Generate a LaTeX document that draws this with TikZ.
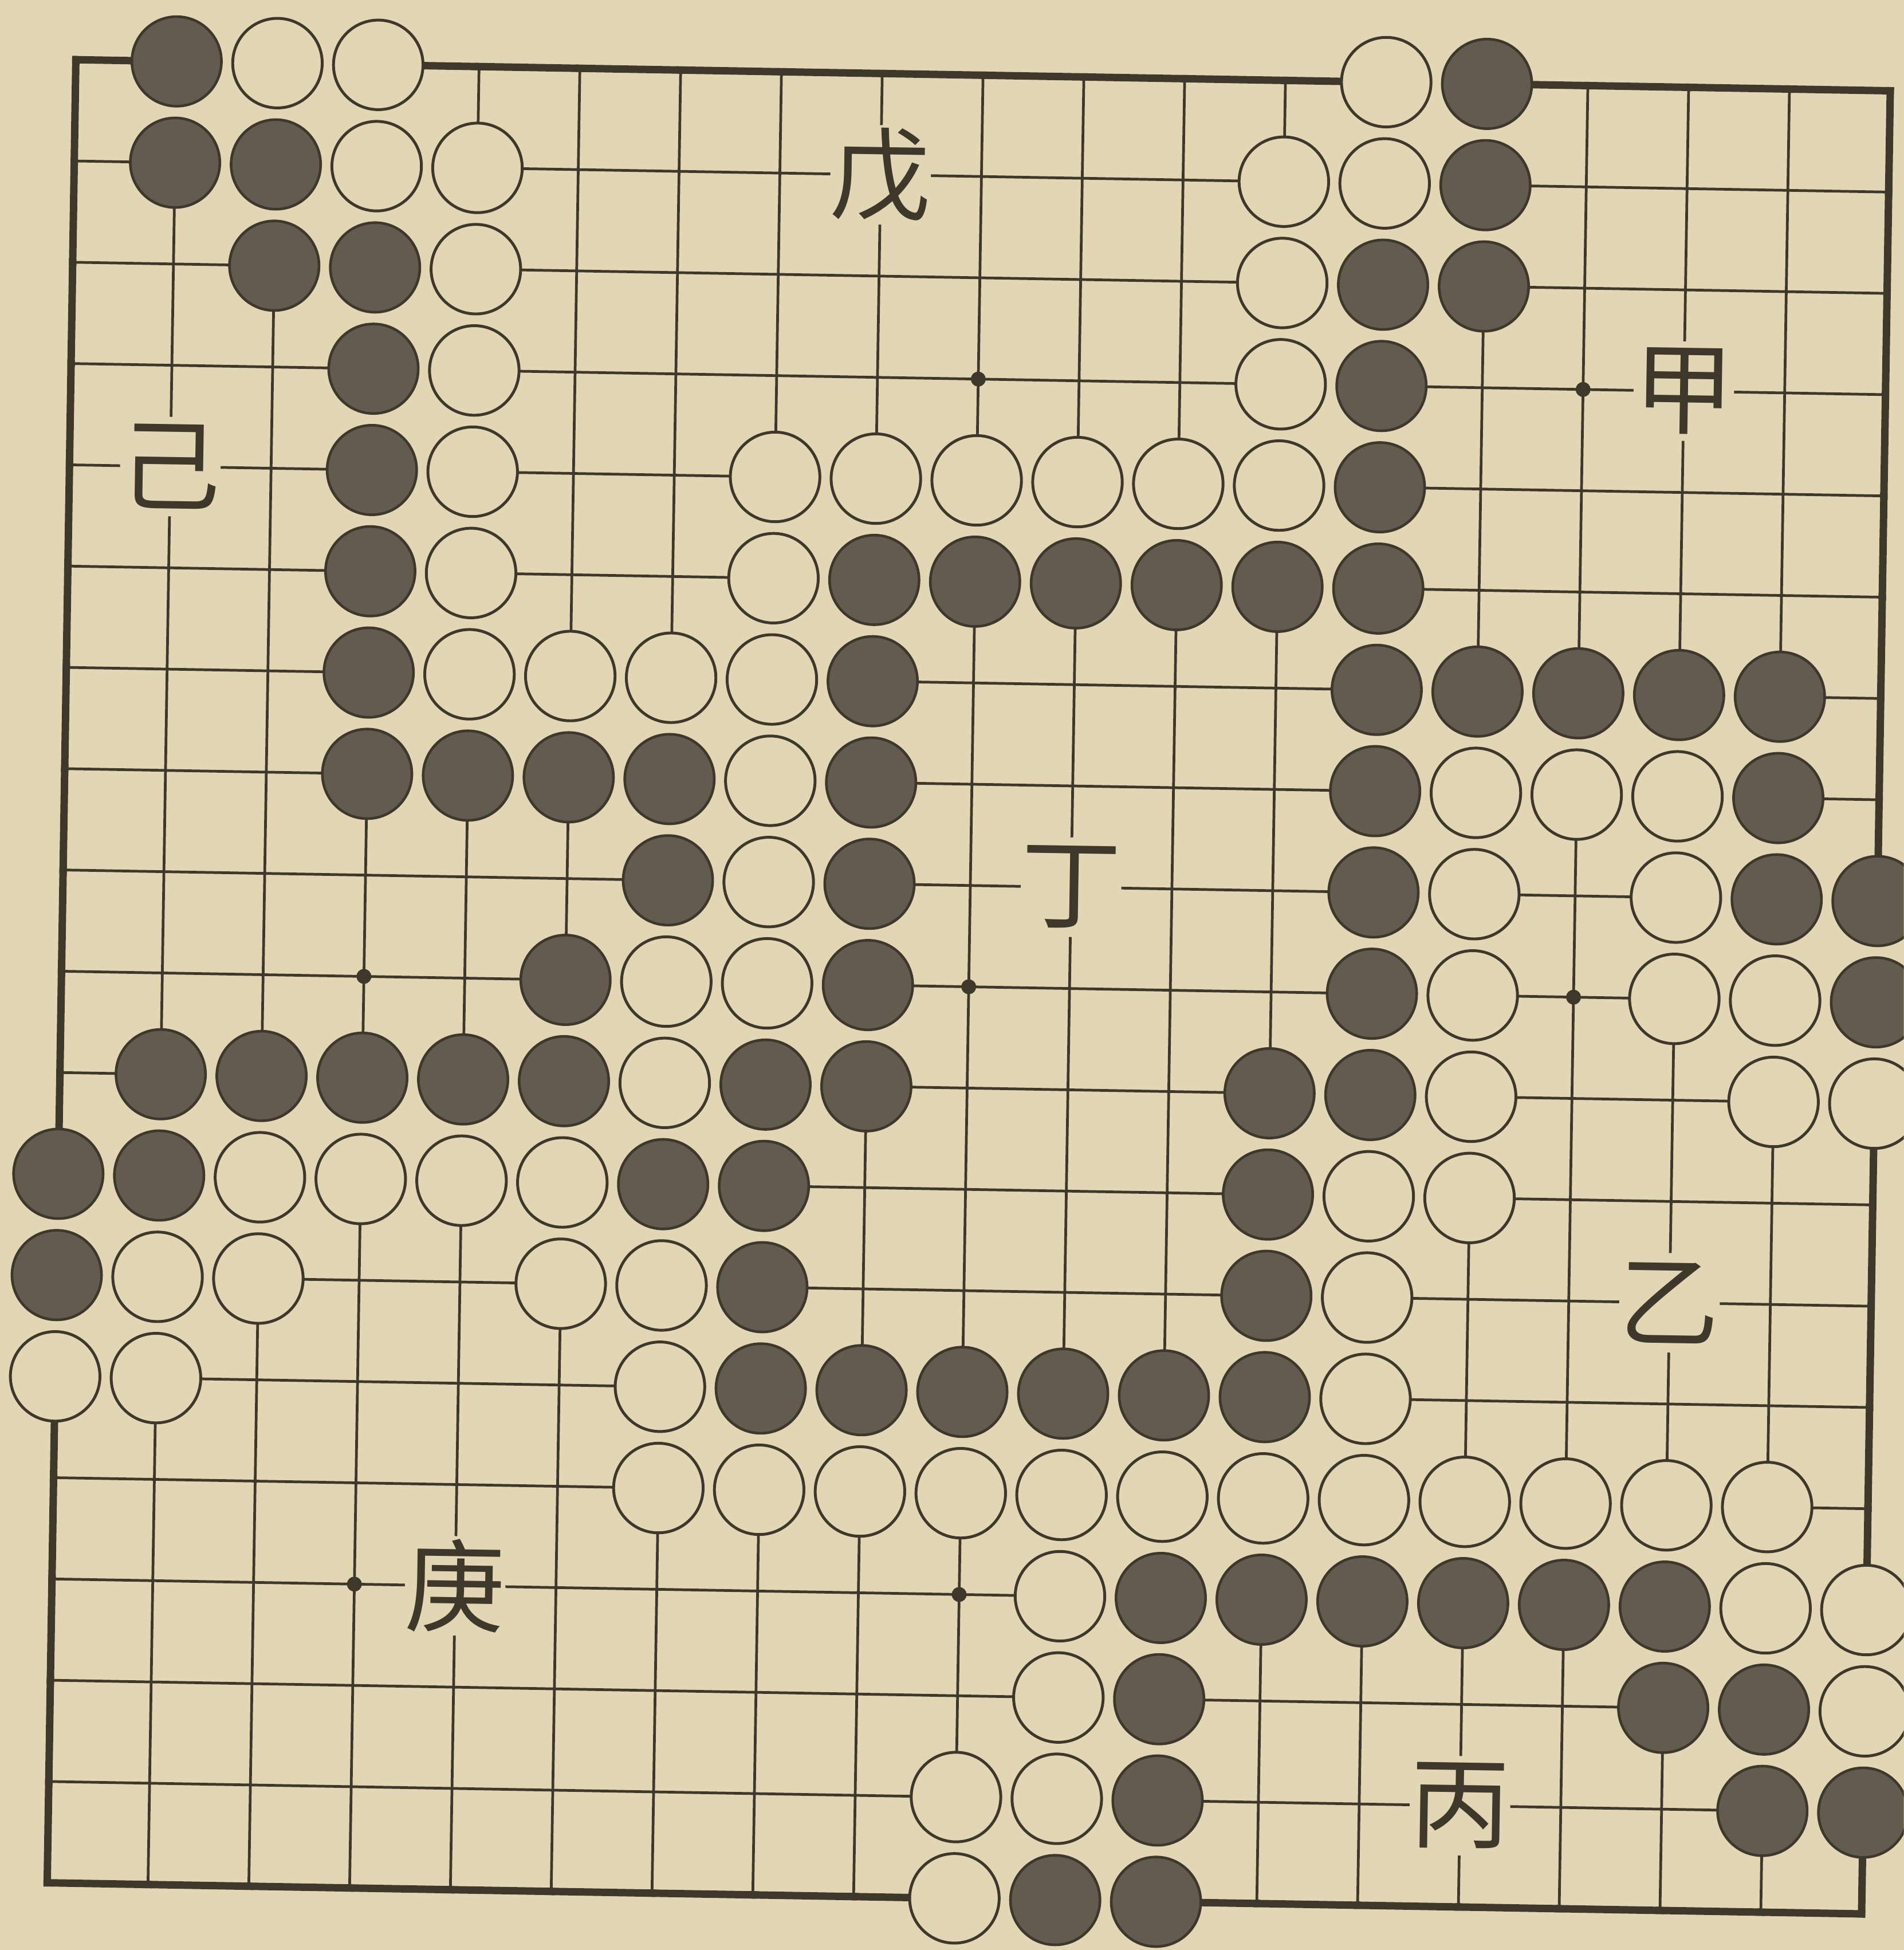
\documentclass[tikz,border=0pt]{standalone}
\usepackage{fontspec}
\newfontfamily\cjk{Noto Sans CJK TC}
\definecolor{paper}{RGB}{226,214,180}
\definecolor{ink}{RGB}{62,56,42}
\definecolor{stonefill}{RGB}{98,92,78}
\definecolor{stoneedge}{RGB}{62,56,44}
\def\blacklist{1/0,14/0,1/1,2/1,14/1,2/2,3/2,13/2,14/2,3/3,13/3,3/4,13/4,3/5,8/5,9/5,10/5,11/5,12/5,13/5,3/6,8/6,13/6,14/6,15/6,16/6,17/6,3/7,4/7,5/7,6/7,8/7,13/7,17/7,6/8,8/8,13/8,17/8,18/8,5/9,8/9,13/9,18/9,1/10,2/10,3/10,4/10,5/10,7/10,8/10,12/10,13/10,0/11,1/11,6/11,7/11,12/11,0/12,7/12,12/12,7/13,8/13,9/13,10/13,11/13,12/13,11/15,12/15,13/15,14/15,15/15,16/15,11/16,16/16,17/16,11/17,17/17,18/17,10/18,11/18}
\def\whitelist{2/0,3/0,13/0,3/1,4/1,12/1,13/1,4/2,12/2,4/3,12/3,4/4,7/4,8/4,9/4,10/4,11/4,12/4,4/5,7/5,4/6,5/6,6/6,7/6,7/7,14/7,15/7,16/7,7/8,14/8,16/8,6/9,7/9,14/9,16/9,17/9,6/10,14/10,17/10,18/10,2/11,3/11,4/11,5/11,13/11,14/11,1/12,2/12,5/12,6/12,13/12,0/13,1/13,6/13,13/13,6/14,7/14,8/14,9/14,10/14,11/14,12/14,13/14,14/14,15/14,16/14,17/14,10/15,17/15,18/15,10/16,18/16,9/17,10/17,9/18}
\begin{document}
\begin{tikzpicture}[
  gridline/.style={draw=ink,line width=0.62pt},
  borderline/.style={draw=ink,line width=1.7pt,line cap=rect},
  bstone/.style={circle,inner sep=0pt,minimum size=0.72cm,fill=stonefill,draw=stoneedge,line width=0.6pt},
  wstone/.style={circle,inner sep=0pt,minimum size=0.72cm,fill=paper,draw=ink,line width=0.65pt},
  lab/.style={fill=paper,inner sep=0pt,minimum size=0.8cm,text=ink,font=\cjk\fontsize{23}{23}\selectfont,rotate=-0.9},
  starpt/.style={circle,fill=ink,inner sep=0pt,minimum size=0.12cm}
]
\fill[paper] (0cm,0cm) rectangle (15.31cm,-15.68cm);
\useasboundingbox (0cm,0cm) rectangle (15.31cm,-15.68cm);
\clip (0cm,0cm) rectangle (15.31cm,-15.68cm);
\begin{scope}[shift={(0.61cm,-0.48cm)},x={(0.8106cm,-0.0139cm)},y={(-0.0128cm,-0.8144cm)}]
  % mark occupied points
  \foreach \c/\r in \blacklist {\expandafter\gdef\csname gs-\c-\r\endcsname{}}
  \foreach \c/\r in \whitelist {\expandafter\gdef\csname gs-\c-\r\endcsname{}}
  % horizontal segments
  \foreach \r in {0,...,18}{
    \foreach \c in {0,...,17}{
      \pgfmathtruncatemacro\cn{\c+1}
      \def\both{0}
      \ifcsname gs-\c-\r\endcsname\ifcsname gs-\cn-\r\endcsname\def\both{1}\fi\fi
      \ifnum\both=0
        \ifnum\r=0 \draw[borderline] (\c,\r) -- (\cn,\r);
        \else\ifnum\r=18 \draw[borderline] (\c,\r) -- (\cn,\r);
        \else \draw[gridline] (\c,\r) -- (\cn,\r);
        \fi\fi
      \fi
    }
  }
  % vertical segments
  \foreach \c in {0,...,18}{
    \foreach \r in {0,...,17}{
      \pgfmathtruncatemacro\rn{\r+1}
      \def\both{0}
      \ifcsname gs-\c-\r\endcsname\ifcsname gs-\c-\rn\endcsname\def\both{1}\fi\fi
      \ifnum\both=0
        \ifnum\c=0 \draw[borderline] (\c,\r) -- (\c,\rn);
        \else\ifnum\c=18 \draw[borderline] (\c,\r) -- (\c,\rn);
        \else \draw[gridline] (\c,\r) -- (\c,\rn);
        \fi\fi
      \fi
    }
  }
  % star points
  \foreach \c/\r in {9/3,15/3,3/9,9/9,15/9,3/15,9/15}
    \node[starpt] (star-\c-\r) at (\c,\r) {};
  % stones
  \foreach \c/\r in \blacklist \node[bstone] (b-\c-\r) at (\c,\r) {};
  \foreach \c/\r in \whitelist \node[wstone] (w-\c-\r) at (\c,\r) {};
  % labels
  \node[lab] (l-jia)  at (16,3)  {甲};
  \node[lab] (l-yi)   at (16,12) {乙};
  \node[lab] (l-bing) at (14,17) {丙};
  \node[lab] (l-ding) at (10,8)  {丁};
  \node[lab] (l-wu)   at (8,1)   {戊};
  \node[lab] (l-ji)   at (1,4)   {己};
  \node[lab] (l-geng) at (4,15)  {庚};
\end{scope}
\end{tikzpicture}
\end{document}
